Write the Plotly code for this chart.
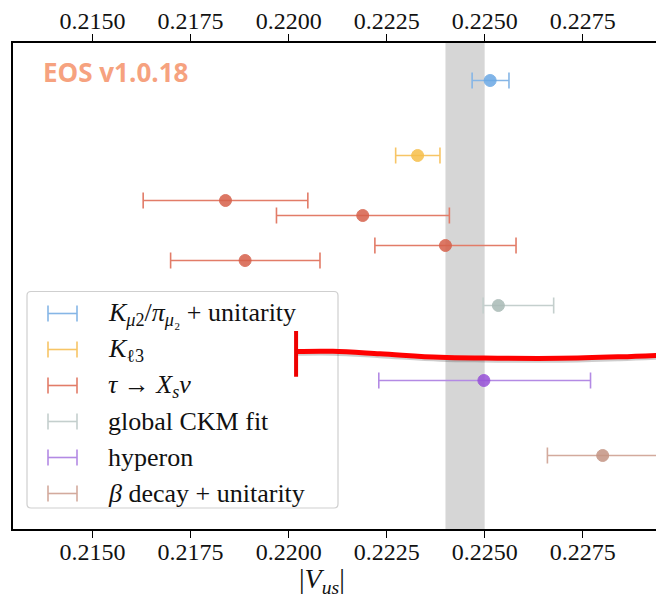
import plotly.graph_objects as go

# ---------------- data ----------------
series_names = [
    "<i>K</i><sub><i>μ</i>2</sub>/<i>π</i><sub><i>μ</i>₂</sub> + unitarity",
    "<i>K</i><sub>ℓ3</sub>",
    "<i>τ</i> → <i>X</i><sub><i>s</i></sub><i>ν</i>",
    "global CKM fit",
    "hyperon",
    "<i>β</i> decay + unitarity",
]
marker_colors = ["#6aa8e4", "#f6bf4a", "#d6604a", "#a9bab6", "#9650d8", "#c49483"]
bar_colors = ["#86b6e6", "#f7c566", "#e27c68", "#c4cfcd", "#b38ae4", "#d3aa9d"]

blue_x = [0.22514]
blue_lo = [0.00046]
blue_hi = [0.00048]
blue_row = [0.0]

yellow_x = [0.22329]
yellow_lo = [0.00056]
yellow_hi = [0.00057]
yellow_row = [1.0]

tau_x = [0.21839, 0.22189, 0.22400, 0.21889]
tau_lo = [0.00210, 0.00220, 0.00180, 0.00190]
tau_hi = [0.00210, 0.00221, 0.00180, 0.00191]
tau_row = [1.6, 1.8, 2.2, 2.4]

ckm_x = [0.22535]
ckm_lo = [0.00039]
ckm_hi = [0.00141]
ckm_row = [3.0]

hyperon_x = [0.22498]
hyperon_lo = [0.00268]
hyperon_hi = [0.00272]
hyperon_row = [4.0]

beta_x = [0.22801]
beta_lo = [0.00141]
beta_hi = [0.00141]
beta_row = [5.0]

band_lo, band_hi = 0.2240, 0.2250

# hand-drawn red marker line overlay (data coordinates)
red_line_x = [0.22019, 0.22113, 0.22233, 0.22386, 0.22498, 0.22692, 0.22845, 0.22960]
red_line_row = [3.613, 3.611, 3.644, 3.691, 3.701, 3.704, 3.684, 3.66]
red_cap_x = [0.22019, 0.22019]
red_cap_row = [3.34, 3.95]

tick_vals = [0.2150, 0.2175, 0.2200, 0.2225, 0.2250, 0.2275]
tick_text = ["0.2150", "0.2175", "0.2200", "0.2225", "0.2250", "0.2275"]

x_range = [0.21297, 0.22937]
y_range = [5.98, -0.5]

# ---------------- figure ----------------
W, H = 656, 601
ML, MR, MT, MB = 13, 0, 43, 72
PW, PH = W - ML - MR, H - MT - MB

def px(x):
    return (x - ML) / PW

def py(y):
    return 1 - (y - MT) / PH

fig = go.Figure()

groups = [
    (blue_x, blue_lo, blue_hi, blue_row),
    (yellow_x, yellow_lo, yellow_hi, yellow_row),
    (tau_x, tau_lo, tau_hi, tau_row),
    (ckm_x, ckm_lo, ckm_hi, ckm_row),
    (hyperon_x, hyperon_lo, hyperon_hi, hyperon_row),
    (beta_x, beta_lo, beta_hi, beta_row),
]
for i, (xs, lo, hi, rows) in enumerate(groups):
    fig.add_trace(go.Scatter(
        x=xs, y=rows, mode="markers", showlegend=False,
        marker=dict(size=12, color=marker_colors[i], opacity=0.85,
                    line=dict(width=1, color=marker_colors[i])),
        error_x=dict(type="data", symmetric=False, array=hi, arrayminus=lo,
                     color=bar_colors[i], thickness=1.6, width=8),
        hoverinfo="skip",
    ))

# dummy trace for the top axis
fig.add_trace(go.Scatter(x=blue_x, y=blue_row, xaxis="x2", mode="markers",
                         marker=dict(opacity=0), showlegend=False, hoverinfo="skip"))

# red overlay: shadow then line
fig.add_trace(go.Scatter(x=red_line_x, y=[r + 0.025 for r in red_line_row], mode="lines",
                         line=dict(color="rgba(60,60,60,0.25)", width=5, shape="spline"),
                         showlegend=False, hoverinfo="skip"))
fig.add_trace(go.Scatter(x=red_line_x, y=red_line_row, mode="lines",
                         line=dict(color="#ff0000", width=5, shape="spline"),
                         showlegend=False, hoverinfo="skip"))
fig.add_trace(go.Scatter(x=red_cap_x, y=red_cap_row, mode="lines",
                         line=dict(color="#ee0000", width=4),
                         showlegend=False, hoverinfo="skip"))

shapes = [
    dict(type="rect", xref="x", yref="paper", x0=band_lo, x1=band_hi, y0=0, y1=1,
         fillcolor="#d6d6d6", line=dict(width=0), layer="below"),
    dict(type="path", xref="paper", yref="paper", layer="below",
         path=(f"M {px(31)} {py(291.5)} L {px(334)} {py(291.5)} "
               f"Q {px(338)} {py(291.5)} {px(338)} {py(295.5)} L {px(338)} {py(504)} "
               f"Q {px(338)} {py(508)} {px(334)} {py(508)} L {px(31)} {py(508)} "
               f"Q {px(27)} {py(508)} {px(27)} {py(504)} L {px(27)} {py(295.5)} "
               f"Q {px(27)} {py(291.5)} {px(31)} {py(291.5)} Z"),
         fillcolor="rgba(255,255,255,0.85)", line=dict(color="#cfcfcf", width=1.2)),
]
annotations = []
for i, name in enumerate(series_names):
    yy = 313.5 + 36 * i
    c = bar_colors[i]
    shapes.append(dict(type="line", xref="paper", yref="paper", x0=px(48), x1=px(77),
                       y0=py(yy), y1=py(yy), line=dict(color=c, width=1.6)))
    for xe in (48, 77):
        shapes.append(dict(type="line", xref="paper", yref="paper", x0=px(xe), x1=px(xe),
                           y0=py(yy - 8), y1=py(yy + 8), line=dict(color=c, width=1.6)))
    annotations.append(dict(xref="paper", yref="paper", x=px(106), y=py(yy), text=name,
                            showarrow=False, xanchor="left", yanchor="middle",
                            font=dict(family="Liberation Serif", size=26, color="#111111")))

annotations.append(dict(xref="paper", yref="paper", x=px(41), y=py(72), text="<b>EOS v1.0.18</b>",
                        showarrow=False, xanchor="left", yanchor="middle",
                        font=dict(family="Open Sans", size=26, color="#f6a27f")))
annotations.append(dict(xref="paper", yref="paper", x=px(322), y=py(580),
                        text="|<i>V</i><sub><i>us</i></sub>|", showarrow=False,
                        xanchor="center", yanchor="middle",
                        font=dict(family="Liberation Serif", size=28, color="#111111")))

axis_common = dict(
    range=x_range, tickvals=tick_vals, ticktext=tick_text, ticks="outside", ticklen=7,
    tickwidth=1.2, tickcolor="black", showgrid=False, zeroline=False, automargin=False,
    showline=True, linecolor="black", linewidth=1.8,
    tickfont=dict(family="Liberation Serif", size=24, color="#111111"),
)

fig.update_layout(
    width=W, height=H,
    margin=dict(l=ML, r=MR, t=MT, b=MB),
    paper_bgcolor="white", plot_bgcolor="white",
    showlegend=False,
    xaxis=dict(**axis_common, ticklabelstandoff=-7),
    xaxis2=dict(**axis_common, overlaying="x", side="top", matches="x", ticklabelstandoff=-4),
    yaxis=dict(range=y_range, showticklabels=False, ticks="", showgrid=False, zeroline=False,
               automargin=False, showline=True, linecolor="black", linewidth=1.8),
    shapes=shapes,
    annotations=annotations,
)

fig.write_html("out.html", config={"displayModeBar": False},
               post_script="document.body.style.margin='0';document.body.style.overflow='hidden';")
